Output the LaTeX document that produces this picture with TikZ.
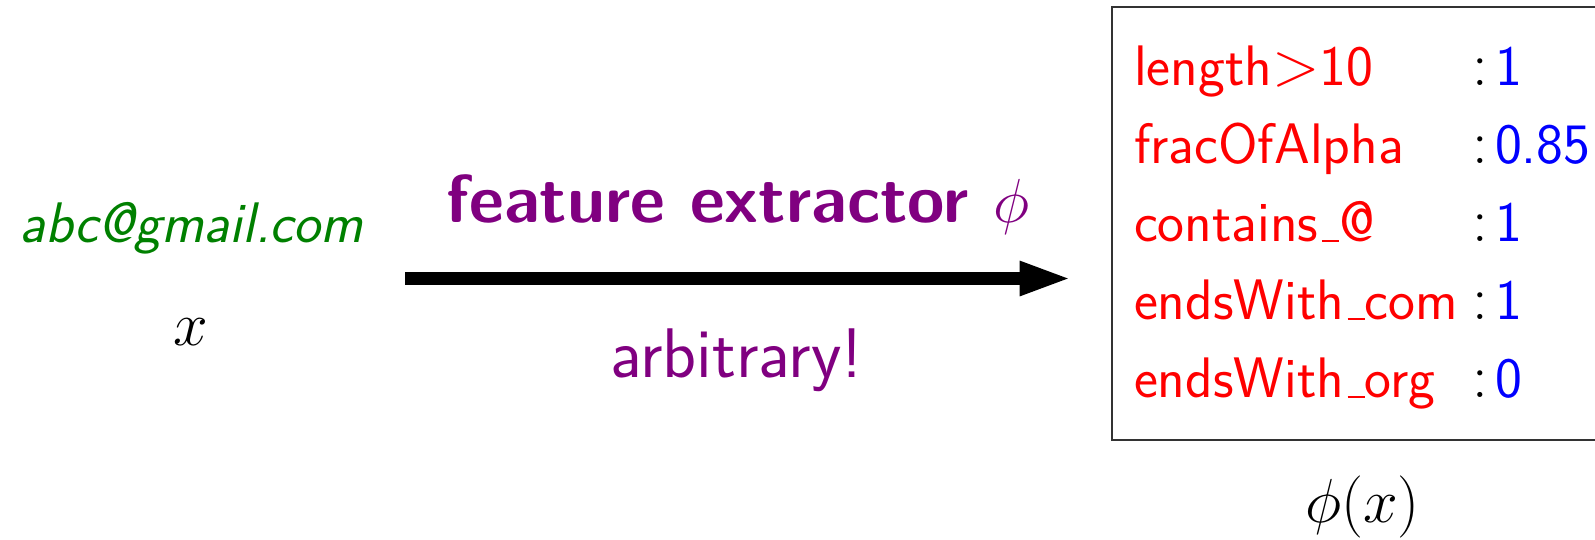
\documentclass[tikz,border=0pt]{standalone}
\usetikzlibrary{arrows.meta}
\renewcommand{\familydefault}{\sfdefault}
\definecolor{mygreen}{RGB}{0,128,0}
\definecolor{mypurple}{RGB}{128,0,128}
\newcommand{\lowbar}{\kern.06em\rule[-0.3pt]{0.3em}{0.8pt}}
\newsavebox{\fitbox}
\newlength{\fitlen}
\newcommand{\fitsize}[4]{%
  \sbox{\fitbox}{\fontsize{#2}{#2}\selectfont #4}%
  \setlength{\fitlen}{\wd\fitbox}%
  \pgfmathsetmacro{#1}{#2*#3/\fitlen}}
\begin{document}%
\fitsize{\rowsz}{22}{129.6}{endsWith\lowbar com}%
\fitsize{\emailsz}{22}{137.5}{\textsl{abc@gmail.com}}%
\fitsize{\titlesz}{27}{233}{\bfseries feature extractor $\phi$}%
\fitsize{\arbsz}{27}{100.8}{arbitrary!}%
\fitsize{\mathsz}{26}{51.4}{$\phi(x)$}%
\begin{tikzpicture}[x=0.4pt,y=-0.4pt,
  every node/.style={inner sep=0pt, outer sep=0pt},
  featbox/.style={draw=black!80, line width=0.6pt, anchor=north west, minimum width=240pt, minimum height=173.2pt},
  bigarrow/.style={line width=5.2pt, -{Triangle[length=21pt, width=12.5pt]}},
  rowfont/.style={font=\fontsize{\rowsz}{\rowsz}\selectfont},
  mathfont/.style={font=\fontsize{\mathsz}{\mathsz}\selectfont},
  featlab/.style={red, anchor=base west, rowfont},
  featcol/.style={anchor=base, rowfont},
  featval/.style={blue, anchor=base west, rowfont}]
\useasboundingbox (0,0) rectangle (1595,540);
\clip (0,0) rectangle (1595,540);
\node[mygreen, anchor=base, font=\fontsize{\emailsz}{\emailsz}\selectfont] (email) at (191.5,242) {\textsl{abc@gmail.com}};
\node[anchor=base, mathfont] (xvar) at (190.5,345) {$x$};
\node[featbox] (fbox) at (1112,7) {};
\coordinate (astart) at (405,278.5);
\coordinate (aend) at (1072,278.5);
\draw[bigarrow] (astart) -- (aend);
\node[mypurple, anchor=base, font=\fontsize{\titlesz}{\titlesz}\selectfont] (fe) at (738,222) {\bfseries feature extractor $\phi$};
\node[mypurple, anchor=base, font=\fontsize{\arbsz}{\arbsz}\selectfont] (arb) at (736.5,377) {arbitrary!};
\foreach \lab/\val [count=\i] in {length$>$10/1, fracOfAlpha/0.85, contains\lowbar@/1, endsWith\lowbar com/1, endsWith\lowbar org/0}{
  \node[featlab] (l\i) at (1134, 8.25+77.75*\i) {\lab};
  \node[featcol] (c\i) at (1480, 8.25+77.75*\i) {$:$};
  \node[featval] (v\i) at (1495, 8.25+77.75*\i) {\val};
}
\node[anchor=base, mathfont] (phix) at (1362.5,522) {$\phi(x)$};
\end{tikzpicture}%
\end{document}
